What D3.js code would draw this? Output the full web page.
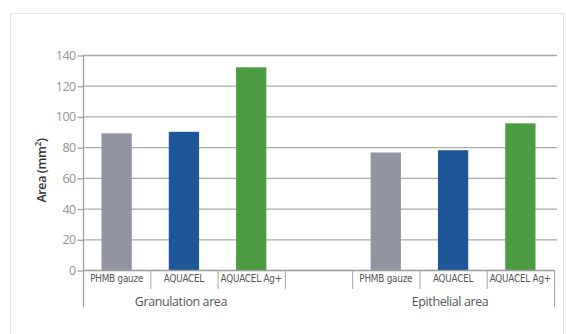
<!DOCTYPE html>
<html><head><meta charset="utf-8">
<script src="https://cdn.jsdelivr.net/npm/d3@7"></script>
<style>
html,body{margin:0;padding:0;background:#fff;}
svg{display:block;}
</style></head>
<body>
<svg id="chart" width="566" height="334"></svg>
<script>
const groups = ["Granulation area", "Epithelial area"];
const categories = ["PHMB gauze", "AQUACEL", "AQUACEL Ag+"];
const granulationValues = [89, 90, 132];
const epithelialValues = [76.5, 78, 95.5];
const yTicks = [0, 20, 40, 60, 80, 100, 120, 140];
const colors = ["#9294a2", "#1d5797", "#4c9d42"];

(function () {
const seriesByGroup = [granulationValues, epithelialValues];
// slots: 3 categories, blank spacer, 3 categories
const slots = [];
groups.forEach((g, gi) => {
  categories.forEach((c, ci) => slots.push({key: gi + "-" + ci, group: gi, cat: c, ci, value: seriesByGroup[gi][ci]}));
  if (gi < groups.length - 1) slots.push({key: "gap" + gi, gap: true});
});

const svg = d3.select("#chart");
const mLeft = 83, mRight = 554, mTop = 55, mBottom = 270;

// frame
svg.append("path").attr("d", "M10.5,334 V13.5 H563.5 V334").attr("fill", "none").attr("stroke", "#e3e3e3").attr("stroke-width", 1);

const x = d3.scaleBand().domain(slots.map(d => d.key)).range([mLeft, mRight]).paddingInner(0).paddingOuter(0);
const y = d3.scaleLinear().domain([0, 140]).range([mBottom, mTop]);

// gridlines
svg.append("g").selectAll("line").data(yTicks.filter(t => t > 0)).join("line")
  .attr("x1", mLeft).attr("x2", 557).attr("y1", d => y(d) + 0.5).attr("y2", d => y(d) + 0.5)
  .attr("stroke", "#a9a9a9").attr("stroke-width", 1.3);

// y axis
const yAxis = d3.axisLeft(y).tickValues(yTicks).tickSize(6).tickPadding(2).tickFormat(d3.format("d"));
const yg = svg.append("g").attr("transform", `translate(${mLeft + 0.5},0.5)`).call(yAxis);
yg.select(".domain").remove();
yg.selectAll(".tick line").attr("stroke", "#a0a0a0").attr("stroke-width", 1.3);
yg.selectAll(".tick text").attr("fill", "#959595").style("font-family", "'Open Sans', 'DejaVu Sans', sans-serif").style("font-size", "12.5px").style("letter-spacing", "-0.6px");

// bars
const bw = x.bandwidth() * 0.45;
svg.append("g").selectAll("rect").data(slots.filter(d => !d.gap)).join("rect")
  .attr("x", d => x(d.key) + (x.bandwidth() - bw) / 2)
  .attr("width", bw)
  .attr("y", d => y(d.value))
  .attr("height", d => y(0) - y(d.value))
  .attr("fill", d => colors[d.ci]);

// vertical axis line (extends down through category labels)
svg.append("line").attr("x1", mLeft + 0.5).attr("x2", mLeft + 0.5).attr("y1", mTop).attr("y2", 307)
  .attr("stroke", "#9a9a9a").attr("stroke-width", 1.2);
// zero line
svg.append("line").attr("x1", mLeft).attr("x2", mRight).attr("y1", mBottom + 0.5).attr("y2", mBottom + 0.5)
  .attr("stroke", "#9a9a9a").attr("stroke-width", 1.3);

// short dividers between cells
svg.append("g").selectAll("line").data(slots.slice(1)).join("line")
  .attr("x1", d => x(d.key) + 0.5).attr("x2", d => x(d.key) + 0.5)
  .attr("y1", mBottom).attr("y2", 289)
  .attr("stroke", "#a5a5a5").attr("stroke-width", 1);
// right long divider
svg.append("line").attr("x1", mRight + 0.5).attr("x2", mRight + 0.5).attr("y1", mBottom).attr("y2", 307)
  .attr("stroke", "#a5a5a5").attr("stroke-width", 1);

// category labels
svg.append("g").selectAll("text").data(slots.filter(d => !d.gap)).join("text")
  .attr("x", d => x(d.key) + x.bandwidth() / 2)
  .attr("y", 282)
  .attr("text-anchor", "middle")
  .attr("fill", "#555")
  .style("font-family", "'Liberation Sans Narrow', 'DejaVu Sans Condensed', sans-serif")
  .style("font-size", "9.8px")
  .style("letter-spacing", "-0.2px")
  .text(d => d.cat);

// group labels
svg.append("g").selectAll("text").data(groups).join("text")
  .attr("x", (g, gi) => {
    const ks = slots.filter(s => !s.gap && s.group === gi);
    return (x(ks[0].key) + x(ks[ks.length - 1].key) + x.bandwidth()) / 2 - 3;
  })
  .attr("y", 306)
  .attr("text-anchor", "middle")
  .attr("fill", "#555")
  .style("font-family", "'Open Sans', 'DejaVu Sans', sans-serif")
  .style("font-size", "12.5px")
  .style("letter-spacing", "-0.4px")
  .text(d => d);

// y title
const yt = svg.append("text")
  .attr("transform", `translate(46,${(mTop + mBottom) / 2 + 8}) rotate(-90)`)
  .attr("text-anchor", "middle")
  .attr("fill", "#333")
  .style("font-family", "'Open Sans', 'DejaVu Sans', sans-serif")
  .style("font-size", "12.5px")
  .style("font-weight", "600")
  .style("letter-spacing", "-0.4px");
yt.append("tspan").text("Area (mm");
yt.append("tspan").attr("dy", -5).style("font-size", "8.5px").text("2");
yt.append("tspan").attr("dy", 5).text(")");
})();
</script>
</body></html>
